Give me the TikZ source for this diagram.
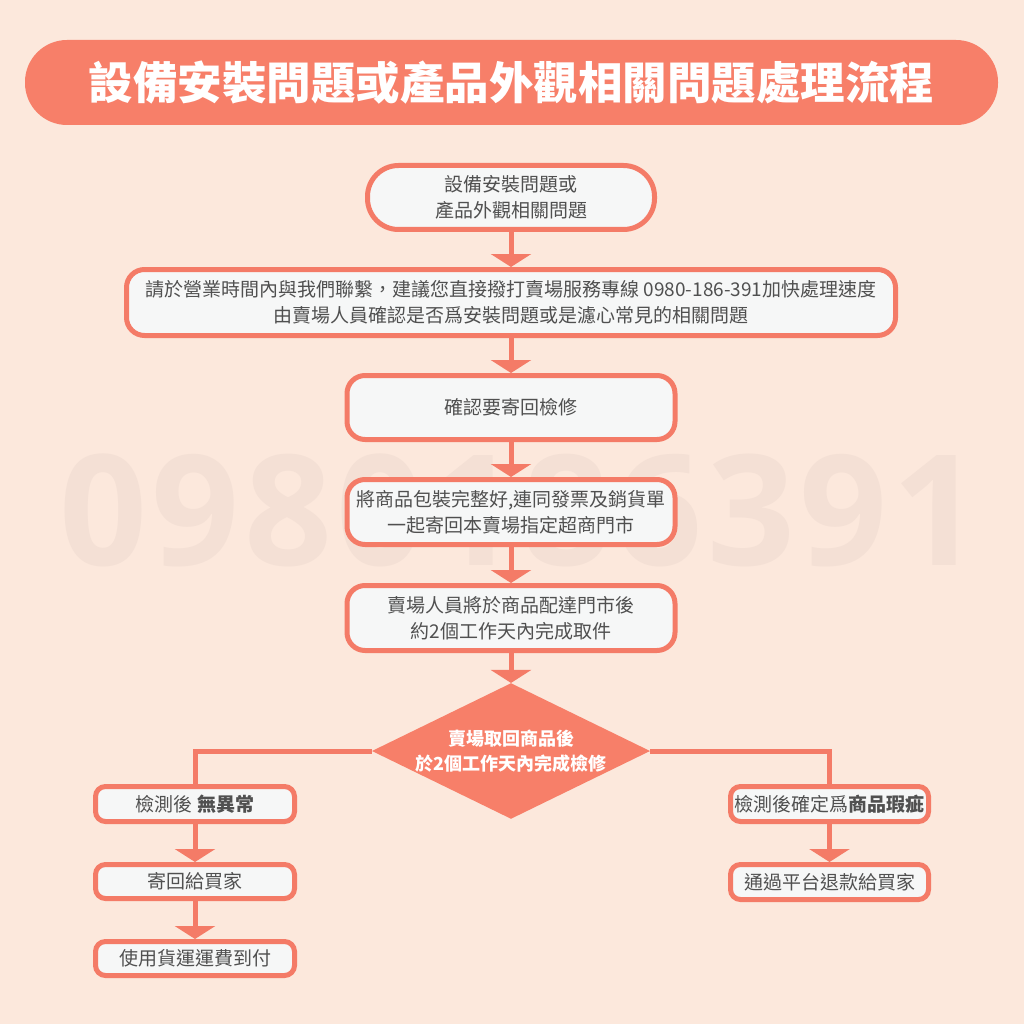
\documentclass[tikz,border=0pt]{standalone}
\usepackage{fontspec}
\setmainfont{Noto Sans CJK TC}
\newfontfamily\digitfont{Open Sans}
\usetikzlibrary{arrows.meta,shapes.geometric}
\definecolor{bgc}{HTML}{FCE8DC}
\definecolor{salmon}{HTML}{F77F69}
\definecolor{edgec}{HTML}{F47B67}
\definecolor{boxfill}{HTML}{F6F7F7}
\definecolor{txt}{HTML}{505050}
\definecolor{wmark}{HTML}{F4E0D5}
\tikzset{
  box/.style={draw=edgec, line width=5pt, fill=boxfill, text=txt, inner sep=0pt,
    align=center, font=\fontsize{19}{26}\selectfont},
  bigbox/.style={box, rounded corners=18pt},
  smallbox/.style={box, rounded corners=10pt, font=\fontsize{19}{24}\selectfont},
  conn/.style={draw=edgec, line width=5pt},
  arr/.style={conn, -{Triangle[width=40pt,length=13pt]}},
}
\begin{document}
\begin{tikzpicture}[x=1pt,y=-1pt]
\fill[bgc] (0,0) rectangle (1024,1024);
\useasboundingbox (0,0) rectangle (1024,1024);
% watermark
\foreach \d [count=\i from 0] in {0,9,8,0,1,8,6,3,9,1}{
  \node[text=wmark, font=\digitfont\bfseries\fontsize{154}{154}\selectfont, anchor=base, inner sep=0pt]
    (w\i) at (103+92.6*\i, 565) {\d};
}
% title
\node[fill=salmon, rounded corners=42pt, minimum width=973pt, minimum height=85pt, inner sep=0pt,
  text=white, font=\bfseries\fontsize{44.5}{44.5}\selectfont] (title) at (511.5,82.5)
  {設備安裝問題或產品外觀相關問題處理流程};
% main flow
\node[box, rounded corners=31pt, minimum width=287pt, minimum height=64pt] (b1) at (511,197.5)
  {設備安裝問題或\\產品外觀相關問題};
\node[bigbox, minimum width=769pt, minimum height=66pt] (b2) at (511,302.5)
  {請於營業時間內與我們聯繫，建議您直接撥打賣場服務專線 0980-186-391加快處理速度\\由賣場人員確認是否爲安裝問題或是濾心常見的相關問題};
\node[bigbox, minimum width=328pt, minimum height=64pt] (b3) at (511,407.5) {確認要寄回檢修};
\node[bigbox, minimum width=328pt, minimum height=65pt] (b4) at (511,512)
  {將商品包裝完整好,連同發票及銷貨單\\一起寄回本賣場指定超商門市};
\node[bigbox, minimum width=328pt, minimum height=65pt] (b5) at (511,618)
  {賣場人員將於商品配達門市後\\約2個工作天內完成取件};
\node[diamond, fill=salmon, inner sep=0pt, minimum width=253pt, minimum height=123pt, aspect=2.05,
  text=white, align=center, font=\bfseries\fontsize{18}{25}\selectfont] (dm) at (511,751)
  {賣場取回商品後\\於2個工作天內完成檢修};
% left branch
\node[smallbox, minimum width=199pt, minimum height=35pt] (l1) at (195,804) {檢測後 \textbf{無異常}};
\node[smallbox, minimum width=199pt, minimum height=34pt] (l2) at (195,881.5) {寄回給買家};
\node[smallbox, minimum width=199pt, minimum height=34pt] (l3) at (195,958.5) {使用貨運運費到付};
% right branch
\node[smallbox, minimum width=198pt, minimum height=35pt] (r1) at (829.5,804) {檢測後確定爲\textbf{商品瑕疵}};
\node[smallbox, minimum width=198pt, minimum height=35pt] (r2) at (829.5,882) {通過平台退款給買家};
% connectors
\draw[arr] (b1) -- (b2);
\draw[arr] (b2) -- (b3);
\draw[arr] (b3) -- (b4);
\draw[arr] (b4) -- (b5);
\draw[arr] (b5) -- (dm);
\draw[conn] (dm.west) -| (l1.north);
\draw[conn] (dm.east) -| (r1.north);
\draw[arr] (l1) -- (l2);
\draw[arr] (l2) -- (l3);
\draw[arr] (r1) -- (r2);
\end{tikzpicture}
\end{document}
